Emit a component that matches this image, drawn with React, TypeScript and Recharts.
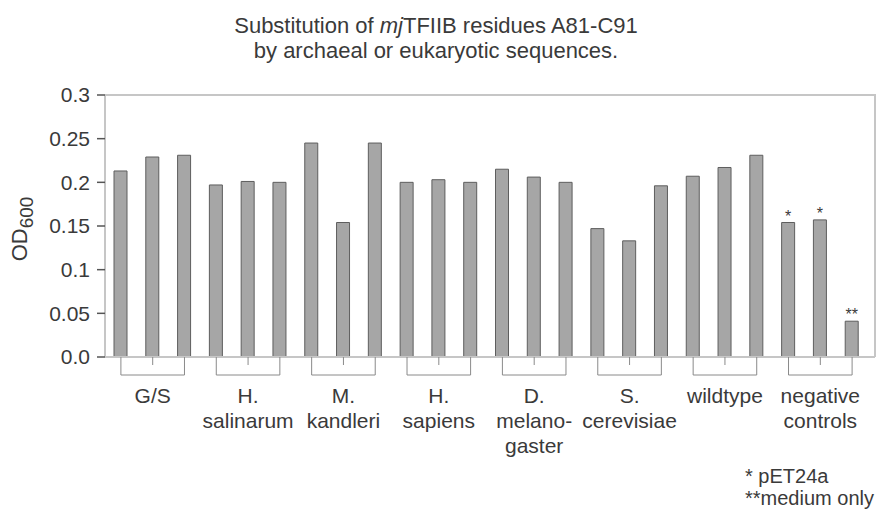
import { Bar, BarChart, LabelList, XAxis, YAxis } from "recharts";

const groups = [
  ["G/S"],
  ["H.", "salinarum"],
  ["M.", "kandleri"],
  ["H.", "sapiens"],
  ["D.", "melano-", "gaster"],
  ["S.", "cerevisiae"],
  ["wildtype"],
  ["negative", "controls"],
];
const od600 = [
  0.213, 0.229, 0.231, 0.197, 0.201, 0.2, 0.245, 0.154, 0.245, 0.2, 0.203, 0.2,
  0.215, 0.206, 0.2, 0.147, 0.133, 0.196, 0.207, 0.217, 0.231, 0.154, 0.157, 0.041,
];
const notes = ["", "", "", "", "", "", "", "", "", "", "", "", "", "", "", "", "", "", "", "", "", "*", "*", "**"];
const yTicks = [0, 0.05, 0.1, 0.15, 0.2, 0.25, 0.3];
const yTickLabels = ["0.0", "0.05", "0.1", "0.15", "0.2", "0.25", "0.3"];
const footnotes = ["* pET24a", "**medium only"];

const W = 887;
const H = 512;
const FONT = "'Liberation Sans', Arial, Helvetica, sans-serif";
const TEXT = "#3a3a3a";
const FRAME = "#c6c6c6";
const PLOT_LEFT = 105;
const PLOT_RIGHT = 875;
const PLOT_TOP = 95;
const X_AXIS_H = 155;
const PAD_RIGHT = 7;
const BAND = (PLOT_RIGHT - PLOT_LEFT - PAD_RIGHT) / od600.length;

const data = od600.map((v, i) => ({ id: i, od: v, note: notes[i] }));

function GroupTick({ x, y, payload }: any) {
  const i = payload.value as number;
  const pos = i % 3;
  if (pos !== 1) {
    return <line x1={x} x2={x} y1={y} y2={y + 18} stroke="#8a8a8a" strokeWidth={1} />;
  }
  const lines = groups[Math.floor(i / 3)];
  return (
    <g>
      <line x1={x} x2={x} y1={y} y2={y + 8} stroke="#8a8a8a" strokeWidth={1} />
      <line x1={x - BAND} x2={x + BAND} y1={y + 18} y2={y + 18} stroke="#8a8a8a" strokeWidth={1} />
      <text x={x} y={y + 46} textAnchor="middle" fontSize={21} fill={TEXT} fontFamily={FONT}>
        {lines.map((t, k) => (
          <tspan key={k} x={x} dy={k === 0 ? 0 : 25}>
            {t}
          </tspan>
        ))}
      </text>
    </g>
  );
}

function YLabel() {
  return (
    <text
      transform="translate(27,229) rotate(-90)"
      textAnchor="middle"
      fontFamily={FONT}
      fill={TEXT}
      fontSize={22}
    >
      <tspan>OD</tspan>
      <tspan dy={6} fontSize={19}>600</tspan>
    </text>
  );
}

export default function App() {
  return (
    <div style={{ position: "absolute", left: 0, top: 0, width: W, height: H, background: "#fff" }}>
      <BarChart
        width={W}
        height={H}
        data={data}
        margin={{ top: PLOT_TOP, right: W - PLOT_RIGHT, bottom: 0, left: 0 }}
        barCategoryGap={0}
      >
        <XAxis
          dataKey="id"
          height={X_AXIS_H}
          interval={0}
          tickSize={0}
          tickMargin={0}
          tickLine={false}
          padding={{ left: 0, right: PAD_RIGHT }}
          axisLine={{ stroke: FRAME, strokeWidth: 2 }}
          tick={<GroupTick />}
        />
        <YAxis
          width={PLOT_LEFT}
          domain={[0, 0.3]}
          ticks={yTicks}
          interval={0}
          tickSize={8}
          tickMargin={7}
          tickFormatter={(v: number) => yTickLabels[yTicks.indexOf(v)]}
          tick={{ fontSize: 21, fill: TEXT, fontFamily: FONT }}
          tickLine={{ stroke: "#555", strokeWidth: 1.5 }}
          axisLine={{ stroke: FRAME, strokeWidth: 2 }}
          label={{ content: () => <YLabel /> }}
        />
        <Bar dataKey="od" fill="#a6a6a6" stroke="#5e5e5e" strokeWidth={1} barSize={13} isAnimationActive={false}>
          <LabelList dataKey="note" position="top" offset={1} fill={TEXT} fontSize={16} fontFamily={FONT} />
        </Bar>
      </BarChart>
      <svg width={W} height={H} style={{ position: "absolute", left: 0, top: 0, pointerEvents: "none" }}>
        <polyline
          points={`${PLOT_LEFT},${PLOT_TOP} ${PLOT_RIGHT},${PLOT_TOP} ${PLOT_RIGHT},${H - X_AXIS_H}`}
          fill="none"
          stroke={FRAME}
          strokeWidth={2}
        />
        <text x={436} y={33} textAnchor="middle" fontSize={22} fill={TEXT} fontFamily={FONT}>
          Substitution of <tspan fontStyle="italic">mj</tspan>TFIIB residues A81-C91
        </text>
        <text x={436} y={58} textAnchor="middle" fontSize={22} fill={TEXT} fontFamily={FONT}>
          by archaeal or eukaryotic sequences.
        </text>
        {footnotes.map((t, k) => (
          <text key={k} x={745} y={483 + k * 22} fontSize={20} fill={TEXT} fontFamily={FONT}>
            {t}
          </text>
        ))}
      </svg>
    </div>
  );
}
